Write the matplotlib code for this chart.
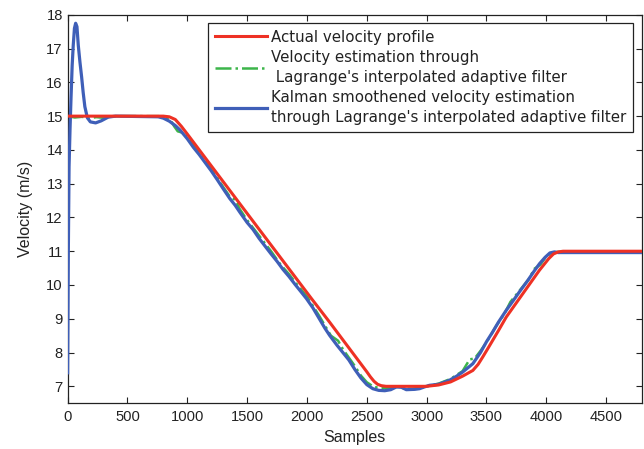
import matplotlib
matplotlib.use("Agg")
import matplotlib.pyplot as plt

plt.rcParams['font.family'] = ['Liberation Sans', 'DejaVu Sans']

# ---- data ----
red_x = [0, 800, 850, 900, 950, 1000, 1438, 2037, 2189, 2500, 2530, 2560, 2590, 2620,
         2660, 3000, 3100, 3200, 3300, 3386, 3430, 3469, 3520, 3600, 3665, 3943, 4020,
         4060, 4100, 4140, 4800]
red_y = [15.0, 15.0, 14.98, 14.9, 14.7, 14.47, 12.41, 9.6, 8.9, 7.43, 7.28, 7.15, 7.06,
         7.02, 7.0, 7.0, 7.04, 7.13, 7.3, 7.47, 7.65, 7.87, 8.17, 8.65, 9.05, 10.44,
         10.78, 10.92, 10.98, 11.0, 11.0]

green_x = [0, 60, 120, 180, 240, 300, 360, 420, 760, 820, 860, 890, 920, 950, 980,
           1020, 1080, 1150, 1200, 1260, 1300, 1355, 1400, 1438, 1500, 1600, 1700,
           1780, 1850, 1920, 2000, 2100, 2200, 2260, 2300, 2400, 2450, 2500, 2560,
           2620, 2700, 2760, 2820, 2880, 2950, 3000, 3100, 3200, 3300, 3360, 3400,
           3450, 3500, 3580, 3650, 3700, 3780, 3850, 3900, 3950, 4000, 4050, 4100, 4800]
green_y = [15.0, 14.96, 14.98, 14.94, 14.97, 14.95, 14.99, 15.0, 15.0, 14.96, 14.88,
           14.7, 14.55, 14.52, 14.45, 14.28, 14.0, 13.66, 13.42, 13.12, 12.9, 12.62,
           12.52, 12.25, 11.92, 11.46, 11.0, 10.6, 10.32, 10.0, 9.66, 9.1, 8.5, 8.35,
           8.1, 7.6, 7.32, 7.12, 6.98, 6.95, 6.95, 6.99, 6.93, 6.93, 6.96, 7.0, 7.08,
           7.22, 7.45, 7.8, 7.82, 8.05, 8.3, 8.78, 9.15, 9.5, 9.85, 10.15, 10.48, 10.6,
           10.85, 10.96, 10.98, 10.98]

blue_x = [0, 6, 12, 20, 28, 38, 47, 57, 67, 78, 89, 103, 117, 130, 144, 165, 190,
          234, 280, 339, 400, 757, 800, 850, 900, 939, 1000, 1050, 1100, 1150, 1200,
          1250, 1300, 1355, 1400, 1438, 1500, 1550, 1600, 1650, 1700, 1750, 1800,
          1850, 1900, 1950, 1995, 2050, 2100, 2150, 2189, 2250, 2300, 2350, 2400,
          2450, 2500, 2550, 2600, 2650, 2700, 2746, 2790, 2830, 2900, 2941, 2980,
          3024, 3100, 3191, 3250, 3300, 3386, 3450, 3500, 3550, 3600, 3665, 3720,
          3780, 3850, 3900, 3943, 3990, 4030, 4068, 4100, 4800]
blue_y = [7.4, 11.0, 13.5, 14.6, 15.5, 16.5, 17.1, 17.6, 17.75, 17.65, 17.1, 16.6,
          16.16, 15.7, 15.28, 14.95, 14.83, 14.8, 14.86, 14.97, 15.0, 14.98, 14.94,
          14.85, 14.72, 14.59, 14.33, 14.08, 13.86, 13.62, 13.38, 13.12, 12.85,
          12.56, 12.36, 12.16, 11.85, 11.64, 11.38, 11.15, 10.92, 10.7, 10.46, 10.25,
          10.02, 9.8, 9.6, 9.32, 9.02, 8.72, 8.51, 8.22, 8.0, 7.78, 7.5, 7.25, 7.05,
          6.93, 6.88, 6.87, 6.9, 6.98, 6.97, 6.9, 6.91, 6.93, 6.98, 7.03, 7.06, 7.18,
          7.3, 7.42, 7.67, 8.0, 8.32, 8.6, 8.9, 9.25, 9.52, 9.82, 10.16, 10.42, 10.63,
          10.82, 10.95, 10.98, 10.96, 10.96]

labels = ["Actual velocity profile",
          "Velocity estimation through\n Lagrange's interpolated adaptive filter",
          "Kalman smoothened velocity estimation\nthrough Lagrange's interpolated adaptive filter"]
x_ticks = [0, 500, 1000, 1500, 2000, 2500, 3000, 3500, 4000, 4500]
y_ticks = [7, 8, 9, 10, 11, 12, 13, 14, 15, 16, 17, 18]

# ---- figure ----
fig = plt.figure(figsize=(6.44, 4.49), dpi=100)
ax = fig.add_axes([0.105, 0.102, 0.892, 0.865])

l1, = ax.plot(red_x, red_y, color='#ee3124', lw=2.2, zorder=4, label=labels[0])
l2, = ax.plot(green_x, green_y, color='#3cb54a', lw=1.8, ls='-.', zorder=2, label=labels[1])
l3, = ax.plot(blue_x, blue_y, color='#3f5fb8', lw=2.3, zorder=3, label=labels[2])

ax.set_xlim(0, 4800)
ax.set_ylim(6.5, 18)
ax.set_xticks(x_ticks)
ax.set_yticks(y_ticks)
ax.tick_params(direction='in', top=True, right=True, length=4, width=0.8,
               labelsize=10.6, colors='#222222')
ax.tick_params(axis='x', pad=5)
for s in ax.spines.values():
    s.set_linewidth(0.9)
    s.set_color('#222222')

ax.set_xlabel("Samples", fontsize=11.5, color='#222222', labelpad=4.5)
ax.set_ylabel("Velocity (m/s)", fontsize=11.5, color='#222222', labelpad=9.5)

leg = ax.legend(handles=[l1, l2, l3], loc='upper left', bbox_to_anchor=(0.244, 0.979),
                borderaxespad=0, frameon=True, fancybox=False,
                prop={'family': 'DejaVu Sans', 'size': 10.8},
                framealpha=1, edgecolor='#222222', handlelength=3.5,
                handletextpad=0.25, borderpad=0.45, labelspacing=0.33)
leg.get_frame().set_linewidth(0.9)
for t in leg.get_texts():
    t.set_linespacing(1.45)
    t.set_color('#222222')

fig.savefig("out.png", dpi=100)
